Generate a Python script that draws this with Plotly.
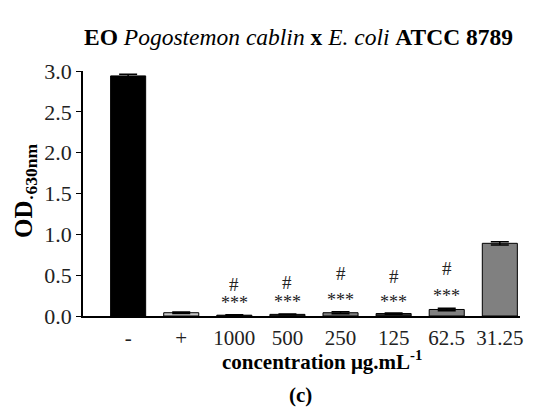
import plotly.graph_objects as go

categories = ["-", "+", "1000", "500", "250", "125", "62.5", "31.25"]
od_values = [2.94, 0.04, 0.01, 0.02, 0.04, 0.03, 0.08, 0.89]
od_errors = [0.02, 0.008, 0.004, 0.006, 0.012, 0.008, 0.015, 0.02]
bar_colors = ["#000000", "#c8c8c8", "#202020", "#303030", "#808080", "#303030", "#808080", "#808080"]
star_labels = ["", "", "***", "***", "***", "***", "***", ""]
star_y = [0, 0, 0.16, 0.17, 0.19, 0.17, 0.25, 0]
hash_labels = ["", "", "#", "#", "#", "#", "#", ""]
hash_y = [0, 0, 0.38, 0.41, 0.52, 0.48, 0.58, 0]

FONT = "Liberation Serif, Times New Roman, DejaVu Serif, serif"

fig = go.Figure()
fig.add_trace(go.Bar(
    x=list(range(len(categories))),
    y=od_values,
    width=0.66,
    marker=dict(color=bar_colors, line=dict(color="black", width=1)),
    error_y=dict(type="data", array=od_errors, visible=True, color="black", thickness=1.5, width=9),
    showlegend=False,
))

for i, (s, sy) in enumerate(zip(star_labels, star_y)):
    if s:
        fig.add_annotation(x=i, y=sy, text=s, showarrow=False, xref="x", yref="y",
                           font=dict(family=FONT, size=18, color="#222"))
for i, (h, hy) in enumerate(zip(hash_labels, hash_y)):
    if h:
        fig.add_annotation(x=i, y=hy, text=h, showarrow=False, xref="x", yref="y",
                           font=dict(family=FONT, size=19, color="#222"))

fig.update_layout(
    width=535, height=410,
    margin=dict(l=75, r=23, t=63, b=102),
    paper_bgcolor="white", plot_bgcolor="white",
    font=dict(family=FONT, color="black"),
    xaxis=dict(
        range=[-0.85, 7.38],
        tickmode="array",
        tickvals=list(range(len(categories))),
        ticktext=categories,
        ticks="",
        showline=True, linecolor="black", linewidth=1.5,
        showgrid=False, zeroline=False,
        tickfont=dict(family=FONT, size=21, color="#222"),
        ticklabelstandoff=2,
    ),
    yaxis=dict(
        range=[0, 3.0],
        tickvals=[0, 0.5, 1.0, 1.5, 2.0, 2.5, 3.0],
        ticktext=["0.0", "0.5", "1.0", "1.5", "2.0", "2.5", "3.0"],
        ticks="outside", ticklen=5, tickcolor="black", tickwidth=1,
        showline=True, linecolor="black", linewidth=1.5,
        showgrid=False, zeroline=False,
        tickfont=dict(family=FONT, size=22, color="#222"),
    ),
)

fig.add_annotation(
    x=0.494, y=1.139, xref="paper", yref="paper",
    text="<b>EO</b> <i>Pogostemon cablin</i> <b>x</b> <i>E. coli</i> <b>ATCC 8789</b>",
    showarrow=False, font=dict(family=FONT, size=23.5, color="black"),
    xanchor="center", yanchor="middle",
)
fig.add_annotation(
    x=-0.133, y=0.51, xref="paper", yref="paper",
    text="<b>OD<sub>·630nm</sub></b>", textangle=-90, showarrow=False,
    font=dict(family=FONT, size=25, color="black"),
    xanchor="center", yanchor="middle",
)
fig.add_annotation(
    x=0.547, y=-0.18, xref="paper", yref="paper",
    text="<b>concentration μg.mL<sup>-1</sup></b>", showarrow=False,
    font=dict(family=FONT, size=21, color="black"),
    xanchor="center", yanchor="middle",
)
fig.add_annotation(
    x=0.497, y=-0.322, xref="paper", yref="paper",
    text="<b>(c)</b>", showarrow=False,
    font=dict(family=FONT, size=21, color="black"),
    xanchor="center", yanchor="middle",
)

fig.write_html("out.html")
